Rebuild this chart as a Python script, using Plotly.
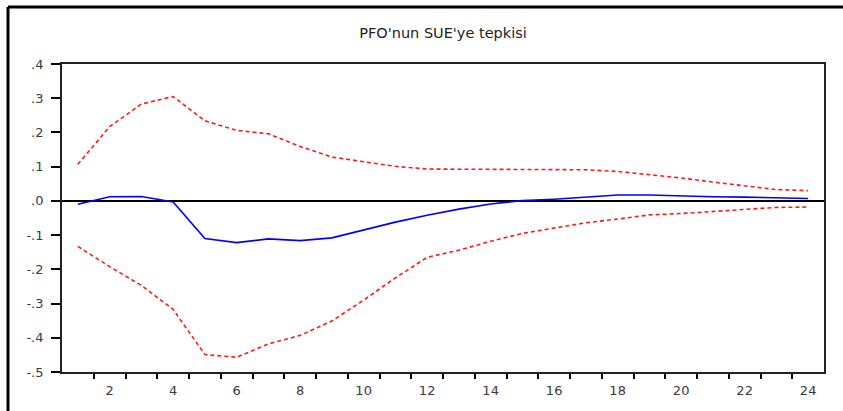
import plotly.graph_objects as go

# Impulse response of PFO to a shock in SUE, with +/- 2 S.E. bands
periods = list(range(1, 25))
response = [-0.010, 0.012, 0.013, -0.003, -0.110, -0.122, -0.111, -0.116,
            -0.108, -0.084, -0.062, -0.042, -0.024, -0.009, 0.001, 0.005,
            0.011, 0.017, 0.017, 0.014, 0.012, 0.011, 0.008, 0.007]
upper = [0.107, 0.217, 0.283, 0.305, 0.234, 0.206, 0.196, 0.159,
         0.128, 0.114, 0.101, 0.093, 0.093, 0.093, 0.093, 0.093,
         0.091, 0.086, 0.077, 0.067, 0.055, 0.043, 0.033, 0.030]
lower = [-0.133, -0.192, -0.247, -0.317, -0.449, -0.457, -0.418, -0.393,
         -0.351, -0.290, -0.225, -0.165, -0.144, -0.118, -0.095, -0.080,
         -0.064, -0.053, -0.041, -0.037, -0.030, -0.025, -0.019, -0.018]

x_labels = [2, 4, 6, 8, 10, 12, 14, 16, 18, 20, 22, 24]
y_ticks = [0.4, 0.3, 0.2, 0.1, 0.0, -0.1, -0.2, -0.3, -0.4, -0.5]
y_text = [".4", ".3", ".2", ".1", ".0", "-.1", "-.2", "-.3", "-.4", "-.5"]
title = "PFO'nun SUE'ye tepkisi"

W, H = 843, 411
ML, MR, MT, MB = 62, 19, 64, 39

fig = go.Figure()
band_style = dict(color="#ff1a1a", width=1.6, dash="4px,3px")
fig.add_trace(go.Scatter(x=periods, y=upper, mode="lines", line=band_style))
fig.add_trace(go.Scatter(x=periods, y=lower, mode="lines", line=band_style))
fig.add_trace(go.Scatter(x=periods, y=response, mode="lines",
                         line=dict(color="#0000ff", width=1.6)))

# outer frame lines (top and left), expressed in paper coordinates
pw = W - ML - MR
ph = H - MT - MB
left_x = (8 - ML) / pw
top_y = (H - MB - 7) / ph
fig.add_shape(type="line", xref="paper", yref="paper",
              x0=left_x, x1=(W - ML) / pw, y0=top_y, y1=top_y,
              line=dict(color="black", width=3))
fig.add_shape(type="line", xref="paper", yref="paper",
              x0=left_x, x1=left_x, y0=top_y, y1=-MB / ph - 0.01,
              line=dict(color="black", width=3))

tick_font = dict(family="DejaVu Sans", size=13, color="#3a3a3a")

fig.update_layout(
    width=W, height=H,
    margin=dict(l=ML, r=MR, t=MT, b=MB),
    paper_bgcolor="white", plot_bgcolor="white",
    showlegend=False,
    font=dict(family="DejaVu Sans", size=13, color="#333"),
    title=dict(text=title, x=(ML + pw / 2) / W, xanchor="center",
               y=1 - 33 / H, yanchor="middle",
               font=dict(family="DejaVu Sans", size=14.5, color="#222")),
)
fig.update_xaxes(
    range=[0.5, 24.5], tickmode="array", tickvals=x_labels,
    ticktext=[str(v) for v in x_labels],
    ticks="outside", ticklen=5, tickcolor="rgba(0,0,0,0)",
    minor=dict(tickmode="array", tickvals=[i + 0.5 for i in range(1, 24)],
               ticks="outside", ticklen=5, tickwidth=1.5, tickcolor="black",
               showgrid=False),
    showgrid=False, zeroline=False,
    showline=True, linecolor="#222", linewidth=1.8, mirror=True,
    tickfont=tick_font,
)
fig.update_yaxes(
    range=[-0.5, 0.4], tickmode="array", tickvals=y_ticks, ticktext=y_text,
    ticks="outside", ticklen=9, tickwidth=1.5, tickcolor="black",
    ticklabelstandoff=5,
    showgrid=False, zeroline=True, zerolinecolor="black", zerolinewidth=1.5,
    showline=True, linecolor="#222", linewidth=1.8, mirror=True,
    tickfont=tick_font,
)

fig.write_html("out.html")
